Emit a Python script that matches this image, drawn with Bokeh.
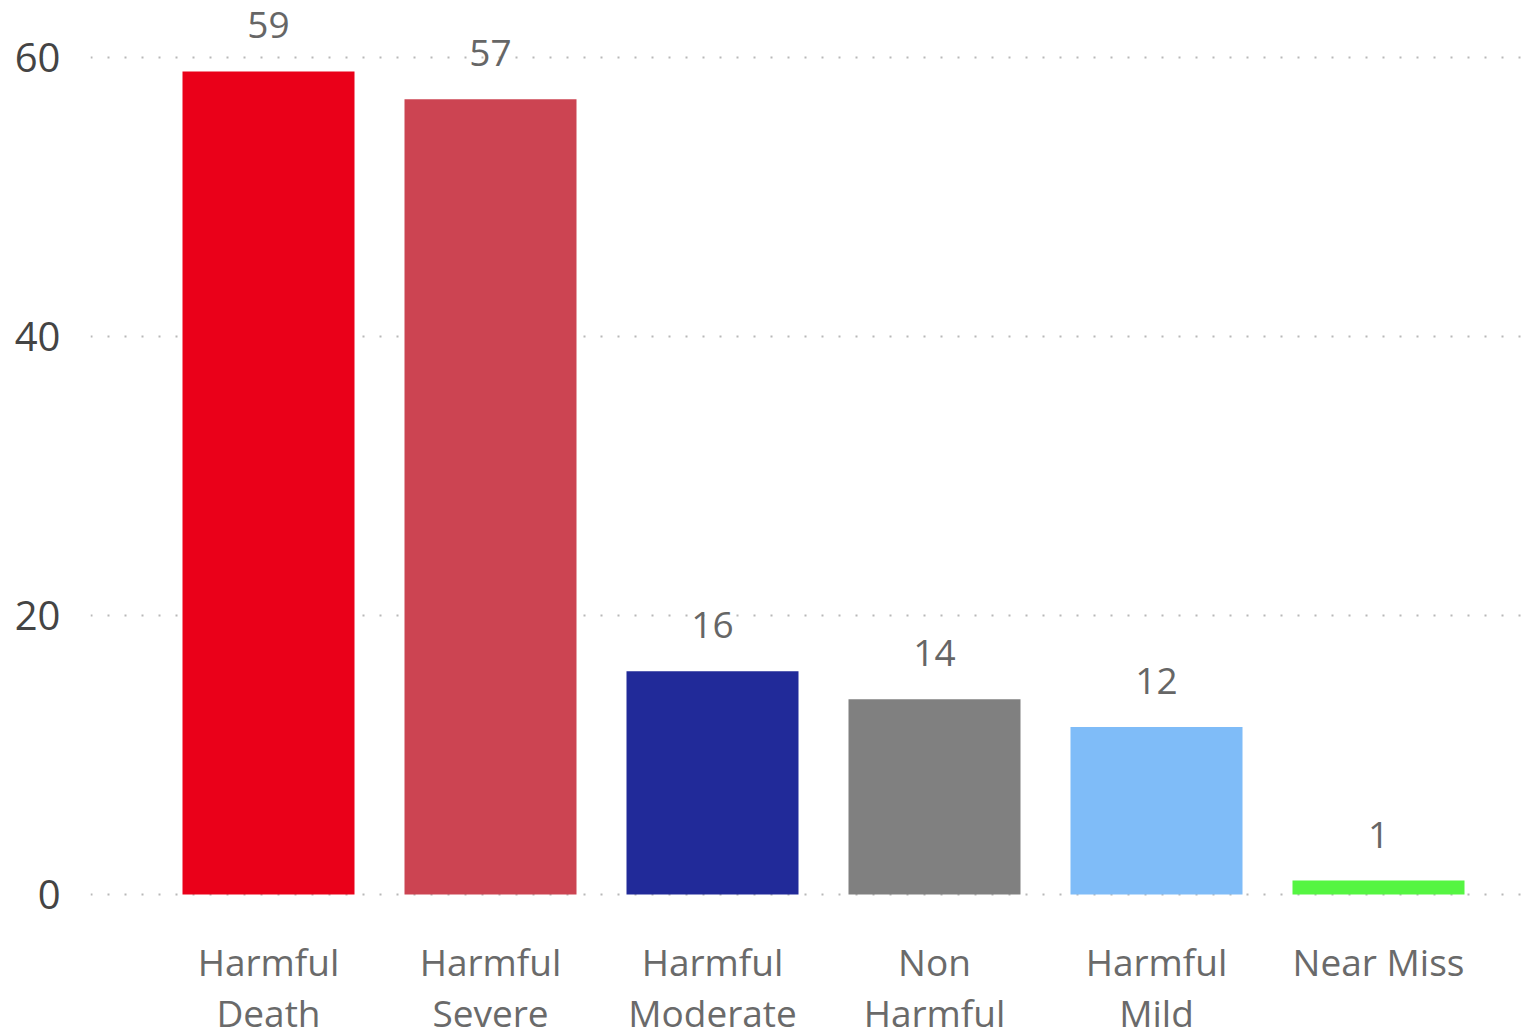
from bokeh.plotting import figure
from bokeh.models import ColumnDataSource, FixedTicker
from bokeh.core.properties import value
from bokeh.embed import file_html
from bokeh.resources import INLINE

categories = ["Harmful Death", "Harmful Severe", "Harmful Moderate", "Non Harmful", "Harmful Mild", "Near Miss"]
label_line1 = ["Harmful", "Harmful", "Harmful", "Non", "Harmful", "Near Miss"]
label_line2 = ["Death", "Severe", "Moderate", "Harmful", "Mild", ""]
counts = [59, 57, 16, 14, 12, 1]
colors = ["#EA0019", "#CC4452", "#212A99", "#808080", "#7FBCF8", "#55F542"]
y_ticks = [0, 20, 40, 60]

W, H = 1531, 1027
left = 90
zero_px, sixty_px = 894, 57
ppu = (zero_px - sixty_px) / 60.0      # pixels per unit
slot = 222.0                           # pixels per category
first_center = 268.0

xs = list(range(len(categories)))
src = ColumnDataSource(dict(
    x=xs, top=counts, color=colors,
    ly=[c + 46 / ppu for c in counts],
    txt=[str(c) for c in counts],
))
lab = ColumnDataSource(dict(
    x=xs, l1=label_line1, l2=label_line2,
    y1=[-(961 - zero_px) / ppu] * len(xs),
    y2=[-(1012 - zero_px) / ppu] * len(xs),
))

p = figure(width=W, height=H, output_backend="svg", toolbar_location=None,
           x_range=(-(first_center - left) / slot, (W - first_center) / slot),
           y_range=(-(H - zero_px) / ppu, zero_px / ppu),
           min_border_left=left, min_border_right=0, min_border_top=0, min_border_bottom=0)
p.outline_line_color = None
p.background_fill_color = "white"
p.xaxis.visible = False

p.vbar(x="x", top="top", bottom=0, width=172 / slot, color="color", line_color=None, source=src)
p.text(x="x", y="ly", text="txt", source=src, text_align="center", text_baseline="alphabetic",
       text_font=value("Open Sans"), text_font_size="37px", text_color="#666666")
for col, ycol in (("l1", "y1"), ("l2", "y2")):
    p.text(x="x", y=ycol, text=col, source=lab, text_align="center", text_baseline="middle",
           text_font=value("Open Sans"), text_font_size="37px", text_color="#6a6a6a")

p.xgrid.grid_line_color = None
p.ygrid.grid_line_color = "#b8b8b8"
p.ygrid.grid_line_width = 2
p.ygrid.grid_line_dash = "2 15"

p.yaxis.ticker = FixedTicker(ticks=y_ticks)
p.yaxis.axis_line_color = None
p.yaxis.major_tick_line_color = None
p.yaxis.minor_tick_line_color = None
p.yaxis.major_label_text_font = "Open Sans"
p.yaxis.major_label_text_font_size = "40px"
p.yaxis.major_label_text_color = "#444444"
p.yaxis.major_label_standoff = 24

open("out.html", "w").write(file_html(p, INLINE))
